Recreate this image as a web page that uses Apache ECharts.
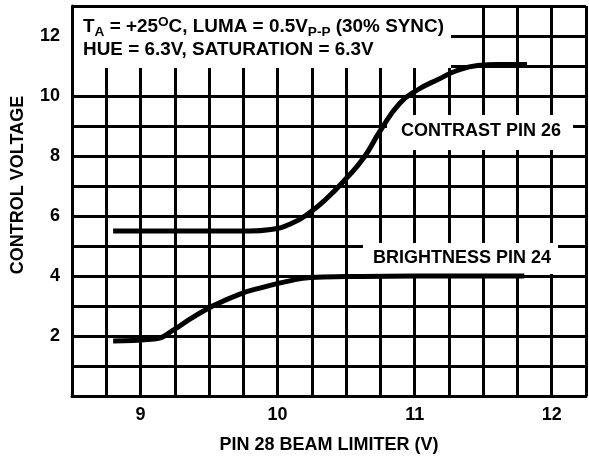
<!DOCTYPE html>
<html>
<head>
<meta charset="utf-8">
<script src="https://cdn.jsdelivr.net/npm/echarts@6/dist/echarts.min.js"></script>
<style>
  html, body { margin: 0; padding: 0; background: #fff; }
  #chart { width: 589px; height: 459px; }
</style>
</head>
<body>
<div id="chart"></div>
<script>
// values
var contrastX = [8.8, 9.5, 9.8, 9.95, 10.1, 10.23, 10.35, 10.5, 10.63, 10.75, 10.89, 11.02, 11.17, 11.31, 11.46, 11.6, 11.82];
var contrastY = [5.5, 5.5, 5.5, 5.55, 5.75, 6.1, 6.55, 7.25, 7.95, 8.85, 9.75, 10.2, 10.55, 10.85, 11.02, 11.05, 11.05];
var brightX = [8.8, 9.1, 9.25, 9.36, 9.51, 9.72, 9.89, 10.07, 10.24, 10.5, 11.0, 11.8];
var brightY = [1.83, 1.9, 2.23, 2.56, 2.96, 3.39, 3.62, 3.82, 3.95, 3.98, 4.0, 4.0];
var xTicks = [9, 10, 11, 12];
var yTicks = [2, 4, 6, 8, 10, 12];

function zip(xs, ys) {
  return xs.map(function (x, i) { return [x, ys[i]]; });
}

var font = "Liberation Sans";
var ink = "#000";

var chart = echarts.init(document.getElementById("chart"));
chart.setOption({
  animation: false,
  grid: { left: 72, top: 6, right: -1, bottom: 62 },
  xAxis: {
    type: "value",
    min: 8.5,
    max: 12.25,
    interval: 0.25,
    name: "PIN 28 BEAM LIMITER (V)",
    nameLocation: "middle",
    nameGap: 40,
    nameTextStyle: { fontFamily: font, fontWeight: "bold", fontSize: 18, color: ink },
    axisLine: { lineStyle: { color: ink, width: 3 } },
    axisTick: { show: false },
    axisLabel: {
      margin: 10,
      fontFamily: font, fontWeight: "bold", fontSize: 18, color: ink,
      formatter: function (v) { return xTicks.indexOf(v) >= 0 ? String(v) : ""; }
    },
    splitLine: { show: true, lineStyle: { color: ink, width: 3 } }
  },
  yAxis: {
    type: "value",
    min: 0,
    max: 13,
    interval: 1,
    axisLine: { show: true, lineStyle: { color: ink, width: 3 } },
    axisTick: { show: false },
    axisLabel: {
      margin: 12,
      fontFamily: font, fontWeight: "bold", fontSize: 18, color: ink,
      formatter: function (v) { return yTicks.indexOf(v) >= 0 ? String(v) : ""; }
    },
    splitLine: { show: true, lineStyle: { color: ink, width: 3 } }
  },
  series: [
    {
      name: "CONTRAST PIN 26",
      type: "line",
      data: zip(contrastX, contrastY),
      smooth: 0.5,
      symbol: "none",
      lineStyle: { color: ink, width: 5 },
      z: 3
    },
    {
      name: "BRIGHTNESS PIN 24",
      type: "line",
      data: zip(brightX, brightY),
      smooth: 0.5,
      symbol: "none",
      lineStyle: { color: ink, width: 5 },
      z: 3
    }
  ],
  graphic: [
    // white box behind the test conditions
    { type: "rect", z: 1, shape: { x: 74, y: 8, width: 377, height: 60 }, style: { fill: "#fff" } },
    {
      type: "text", z: 2, x: 83, y: 16, scaleX: 1.05,
      style: {
        text: "T{sub|A} = +25{sup|O}C, LUMA = 0.5V{sub|P-P} (30% SYNC)\nHUE = 6.3V, SATURATION = 6.3V",
        fontFamily: font, fontWeight: "bold", fontSize: 18, lineHeight: 23, fill: ink,
        rich: {
          sub: { fontFamily: font, fontWeight: "bold", fontSize: 13, lineHeight: 12, verticalAlign: "bottom", fill: ink },
          sup: { fontFamily: font, fontWeight: "bold", fontSize: 13, lineHeight: 12, verticalAlign: "top", fill: ink }
        }
      }
    },
    // curve labels
    { type: "rect", z: 1, shape: { x: 387, y: 115, width: 186, height: 35 }, style: { fill: "#fff" } },
    {
      type: "text", z: 2, x: 481, y: 131,
      style: { text: "CONTRAST PIN 26", align: "center", verticalAlign: "middle",
        fontFamily: font, fontWeight: "bold", fontSize: 18, fill: ink }
    },
    { type: "rect", z: 1, shape: { x: 363, y: 243, width: 195, height: 31 }, style: { fill: "#fff" } },
    {
      type: "text", z: 2, x: 462, y: 258,
      style: { text: "BRIGHTNESS PIN 24", align: "center", verticalAlign: "middle",
        fontFamily: font, fontWeight: "bold", fontSize: 18, fill: ink }
    },
    // y axis title
    {
      type: "text", z: 2, x: 18, y: 185, rotation: Math.PI / 2,
      style: { text: "CONTROL VOLTAGE", align: "center", verticalAlign: "middle",
        fontFamily: font, fontWeight: "bold", fontSize: 18, fill: ink }
    }
  ]
});
</script>
</body>
</html>
